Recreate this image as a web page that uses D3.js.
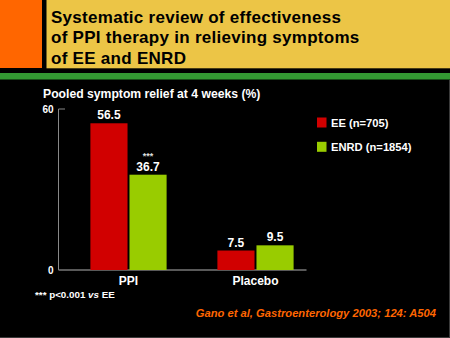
<!DOCTYPE html>
<html><head><meta charset="utf-8">
<script src="https://cdn.jsdelivr.net/npm/d3@7"></script>
<style>
html,body{margin:0;padding:0;background:#000;}
svg{display:block;font-family:"Liberation Sans",Arial,sans-serif;}
</style></head>
<body>
<svg id="c" width="450" height="338"></svg>
<script>
const titleLines = ["Systematic review of effectiveness","of PPI therapy in relieving symptoms","of EE and ENRD"];
const subtitle = "Pooled symptom relief at 4 weeks (%)";
const categories = ["PPI","Placebo"];
const seriesNames = ["EE (n=705)","ENRD (n=1854)"];
const eeValues = [56.5, 7.5];
const enrdValues = [36.7, 9.5];
const enrdMarks = ["***", ""];
const yTickValues = [0, 60];
const yTickLabels = ["0", "60"];
const footnote = ["*** p<0.001 ", "vs", " EE"];
const citation = "Gano et al, Gastroenterology 2003; 124: A504";

const colors = ["#d10000", "#99cc00"];
const svg = d3.select("#c");

// background + header
svg.append("rect").attr("width",450).attr("height",338).attr("fill","#000");
svg.append("rect").attr("x",0).attr("y",0).attr("width",42).attr("height",68).attr("fill","#ff6600");
svg.append("rect").attr("x",46.5).attr("y",0).attr("width",404).attr("height",68.3).attr("fill","#ecc546");
svg.append("rect").attr("x",0).attr("y",73).attr("width",450).attr("height",6.5).attr("fill","#339933");
svg.append("line").attr("x1",449.5).attr("x2",449.5).attr("y1",80).attr("y2",338).attr("stroke","#3a3a3a");
svg.append("line").attr("x1",0).attr("x2",450).attr("y1",337.5).attr("y2",337.5).attr("stroke","#3a3a3a");

const title = svg.append("text").attr("x",51).attr("font-weight","bold").attr("font-size",17)
  .attr("letter-spacing",0.28).attr("fill","#000");
titleLines.forEach((t,i)=>title.append("tspan").attr("x",51).attr("y",23+i*20.3).text(t));

svg.append("text").attr("x",43).attr("y",98).attr("font-weight","bold").attr("font-size",12.2)
  .attr("fill","#fff").text(subtitle);

// scales
const yTop = 109, yBase = 270;
const y = d3.scaleLinear().domain([0, 62]).range([yBase, yTop]);
const x0 = d3.scaleBand().domain(categories).range([65, 319]).paddingInner(0.4).paddingOuter(0.2);
const x1 = d3.scaleBand().domain([0,1]).range([0, x0.bandwidth()]).paddingInner(0.05);

// axes
const yAxisPos = d3.scaleLinear().domain([0,60]).range([yBase, yTop]);
const yAxis = d3.axisLeft(yAxisPos).tickValues(yTickValues).tickFormat((d,i)=>yTickLabels[i]).tickSize(0).tickPadding(5);
const ga = svg.append("g").attr("transform","translate(58.5,0)").call(yAxis);
ga.select(".domain").remove();
ga.selectAll("text").attr("fill","#fff").attr("font-size",10).attr("font-weight","bold").attr("font-family","Liberation Sans, Arial, sans-serif");
svg.append("path").attr("d",`M65,${yTop}H58.5V${yBase}`).attr("fill","none").attr("stroke","#888").attr("stroke-width",1);
svg.append("line").attr("x1",58.5).attr("x2",306.5).attr("y1",yBase).attr("y2",yBase).attr("stroke","#777").attr("stroke-width",1.5);

// bars
const data = categories.map((c,i)=>({cat:c, vals:[eeValues[i], enrdValues[i]], mark:enrdMarks[i]}));
const groups = svg.selectAll("g.grp").data(data).join("g").attr("class","grp")
  .attr("transform", d=>`translate(${x0(d.cat)},0)`);
groups.selectAll("rect").data(d=>d.vals).join("rect")
  .attr("x",(v,i)=>x1(i)).attr("width",x1.bandwidth())
  .attr("y",v=>y(v)).attr("height",v=>yBase - y(v))
  .attr("fill",(v,i)=>colors[i]);
groups.selectAll("text.val").data(d=>d.vals).join("text").attr("class","val")
  .attr("x",(v,i)=>x1(i)+x1.bandwidth()/2).attr("y",v=>y(v)-4)
  .attr("text-anchor","middle").attr("fill","#fff").attr("font-weight","bold").attr("font-size",12)
  .text(v=>v.toFixed(1));
groups.append("text").attr("x",x1(1)+x1.bandwidth()/2).attr("y",(d)=>y(d.vals[1])-16)
  .attr("text-anchor","middle").attr("fill","#ddd").attr("font-size",9).attr("font-weight","bold").text(d=>d.mark);

// category labels
svg.selectAll("text.cat").data(categories).join("text").attr("class","cat")
  .attr("x",c=>x0(c)+x0.bandwidth()/2).attr("y",284.5).attr("text-anchor","middle")
  .attr("fill","#fff").attr("font-weight","bold").attr("font-size",12).text(c=>c);

// legend
const lg = svg.selectAll("g.lg").data(seriesNames).join("g").attr("class","lg")
  .attr("transform",(d,i)=>`translate(317,${117.5+i*24.3})`);
lg.append("rect").attr("width",9.5).attr("height",10).attr("fill",(d,i)=>colors[i]);
lg.append("text").attr("x",14).attr("y",9).attr("fill","#fff").attr("font-weight","bold").attr("font-size",11.2).text(d=>d);

// footnote
const fn = svg.append("text").attr("x",35).attr("y",297.5).attr("fill","#fff").attr("font-weight","bold").attr("font-size",9.8);
fn.append("tspan").text(footnote[0]);
fn.append("tspan").attr("font-style","italic").text(footnote[1]);
fn.append("tspan").text(footnote[2]);

svg.append("text").attr("x",436).attr("y",317).attr("text-anchor","end").attr("fill","#ff6600")
  .attr("font-weight","bold").attr("font-style","italic").attr("font-size",11.2).text(citation);
</script>
</body></html>
